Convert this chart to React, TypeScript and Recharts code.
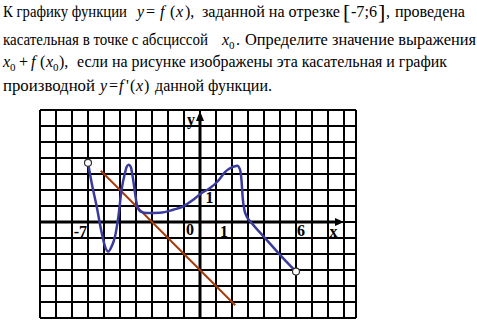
import { LineChart, Line, XAxis, YAxis, CartesianGrid, ReferenceLine, ReferenceDot } from 'recharts';

const xTicks = [-10, -9, -8, -7, -6, -5, -4, -3, -2, -1, 0, 1, 2, 3, 4, 5, 6, 7, 8, 9];
const yTicks = [-6, -5, -4, -3, -2, -1, 0, 1, 2, 3, 4, 5, 6, 7];

// graph of f'(x) on [-7; 6]
const derivative = [
  { x: -7, y: 3.7 },
  { x: -6.77, y: 2.44 },
  { x: -6.46, y: 0.98 },
  { x: -6.14, y: -0.69 },
  { x: -5.94, y: -1.52 },
  { x: -5.73, y: -1.85 },
  { x: -5.52, y: -1.52 },
  { x: -5.31, y: -0.9 },
  { x: -5.1, y: 0.35 },
  { x: -4.9, y: 2.02 },
  { x: -4.69, y: 3.06 },
  { x: -4.58, y: 3.45 },
  { x: -4.45, y: 3.58 },
  { x: -4.33, y: 3.45 },
  { x: -4.21, y: 2.85 },
  { x: -4.06, y: 1.81 },
  { x: -3.92, y: 0.98 },
  { x: -3.7, y: 0.65 },
  { x: -3.3, y: 0.56 },
  { x: -2.5, y: 0.58 },
  { x: -1.67, y: 0.77 },
  { x: -1.04, y: 0.98 },
  { x: -0.42, y: 1.39 },
  { x: 0.1, y: 1.81 },
  { x: 0.63, y: 2.12 },
  { x: 1.14, y: 2.58 },
  { x: 1.56, y: 3.12 },
  { x: 1.98, y: 3.41 },
  { x: 2.33, y: 3.52 },
  { x: 2.5, y: 3.27 },
  { x: 2.6, y: 2.54 },
  { x: 2.67, y: 1.5 },
  { x: 2.77, y: 0.77 },
  { x: 2.92, y: 0.35 },
  { x: 3.23, y: -0.06 },
  { x: 4.06, y: -1.0 },
  { x: 4.9, y: -1.94 },
  { x: 6, y: -3.1 },
];

// tangent line y = -x - 3
const tangent = [
  { x: -6.2, y: 3.2 },
  { x: 2.2, y: -5.2 },
];

const axisLabels = [
  { x: -7, y: 0, text: '-7' },
  { x: 0, y: 0, text: '0' },
  { x: 1, y: 0, text: '1' },
  { x: 6, y: 0, text: '6' },
  { x: 8, y: 0, text: 'x' },
  { x: 0, y: 7, text: 'y' },
  { x: 0, y: 1, text: '1' },
];

const labelOffset: Record<string, [number, number, 'start' | 'middle' | 'end']> = {
  '-7|0': [-1, 15, 'end'],
  '0|0': [-6, 13, 'end'],
  '1|0': [8, 15, 'middle'],
  '6|0': [5, 14, 'middle'],
  '8|0': [5.5, 15, 'middle'],
  '0|7': [-9, 15, 'middle'],
  '0|1': [9.5, -3, 'middle'],
};

const serif = "'Liberation Serif', 'Times New Roman', serif";
const curveColor = '#3a3a9c';
const tangentColor = '#a63c0c';

function T({ x, y, len, it, size, children }: { x: number; y: number; len?: number; it?: boolean; size?: number; children: string }) {
  return (
    <text
      x={x}
      y={y}
      textLength={len}
      lengthAdjust={len ? 'spacingAndGlyphs' : undefined}
      style={{ fontFamily: serif, fontSize: size ?? 16, fontStyle: it ? 'italic' : 'normal' }}
    >
      {children}
    </text>
  );
}

function ProblemText() {
  return (
    <svg width={477} height={105} style={{ position: 'absolute', top: 0, left: 0 }} fill="#000">
      {/* line 1 */}
      <T x={3} y={17} len={124}>К графику функции</T>
      <T x={137} y={17} it>y</T>
      <T x={146} y={17}>=</T>
      <T x={160} y={17} it>f</T>
      <T x={170} y={17}>(</T>
      <T x={176} y={17} it>x</T>
      <T x={185} y={17}>),</T>
      <T x={202} y={17} len={138}>заданной на отрезке</T>
      <T x={343} y={19} size={22}>[</T>
      <T x={351} y={17} len={26}>-7;6</T>
      <T x={378} y={19} size={22}>]</T>
      <T x={386} y={17}>,</T>
      <T x={395} y={17} len={70}>проведена</T>
      {/* line 2 */}
      <T x={3} y={45} len={205}>касательная в точке с абсциссой</T>
      <T x={222} y={45} it>x</T>
      <T x={229} y={49} size={11}>0</T>
      <T x={236} y={45}>.</T>
      <T x={245} y={45} len={231}>Определите значение выражения</T>
      {/* line 3 */}
      <T x={3} y={67} it>x</T>
      <T x={10} y={71} size={11}>0</T>
      <T x={19} y={67}>+</T>
      <T x={31} y={67} it>f</T>
      <T x={40} y={67}>(</T>
      <T x={46} y={67} it>x</T>
      <T x={53} y={71} size={11}>0</T>
      <T x={59} y={67}>),</T>
      <T x={77} y={67} len={370}>если на рисунке изображены эта касательная и график</T>
      {/* line 4 */}
      <T x={3} y={91} len={92}>производной</T>
      <T x={100} y={91} it>y</T>
      <T x={109} y={91}>=</T>
      <T x={119} y={91} it>f</T>
      <T x={126} y={91}>'</T>
      <T x={130} y={91}>(</T>
      <T x={136} y={91} it>x</T>
      <T x={144} y={91}>)</T>
      <T x={155} y={91} len={117}>данной функции.</T>
    </svg>
  );
}

export default function App() {
  const first = derivative[0];
  const last = derivative[derivative.length - 1];

  return (
    <div style={{ position: 'absolute', top: 0, left: 0, width: 477, height: 321, background: '#fff' }}>
      <ProblemText />
      <div style={{ position: 'absolute', top: 0, left: 0 }}>
        <LineChart width={477} height={321} margin={{ top: 110, right: 121, bottom: 3, left: 40 }}>
          <CartesianGrid stroke="#000" strokeWidth={2} />
          <XAxis
            type="number"
            dataKey="x"
            domain={[-10, 9.75]}
            ticks={xTicks}
            interval={0}
            allowDataOverflow
            hide
          />
          <YAxis
            type="number"
            domain={[-6, 7]}
            ticks={yTicks}
            interval={0}
            allowDataOverflow
            hide
          />
          <ReferenceLine segment={[{ x: -10, y: 0 }, { x: 8.6, y: 0 }]} stroke="#000" strokeWidth={3} />
          <ReferenceLine segment={[{ x: 0, y: -6 }, { x: 0, y: 6.5 }]} stroke="#000" strokeWidth={3} />
          <ReferenceDot
            x={9}
            y={0}
            r={1}
            shape={(p: any) => (
              <polygon points={`${p.cx},${p.cy} ${p.cx - 9},${p.cy - 4} ${p.cx - 9},${p.cy + 4}`} fill="#000" />
            )}
          />
          <ReferenceDot
            x={0}
            y={7}
            r={1}
            shape={(p: any) => (
              <polygon points={`${p.cx},${p.cy + 1} ${p.cx - 4},${p.cy + 11} ${p.cx + 4},${p.cy + 11}`} fill="#000" />
            )}
          />
          {axisLabels.map((l) => {
            const [dx, dy, anchor] = labelOffset[`${l.x}|${l.y}`];
            return (
              <ReferenceDot
                key={`${l.x}|${l.y}|${l.text}`}
                x={l.x}
                y={l.y}
                r={1}
                shape={(p: any) => (
                  <text
                    x={p.cx + dx}
                    y={p.cy + dy}
                    textAnchor={anchor}
                    fontFamily={serif}
                    fontSize={16}
                    fontWeight="bold"
                    fill="#000"
                  >
                    {l.text}
                  </text>
                )}
              />
            );
          })}
          <Line
            data={tangent}
            dataKey="y"
            type="linear"
            stroke={tangentColor}
            strokeWidth={2}
            dot={false}
            activeDot={false}
            isAnimationActive={false}
          />
          <Line
            data={derivative}
            dataKey="y"
            type="monotone"
            stroke={curveColor}
            strokeWidth={2.5}
            dot={false}
            activeDot={false}
            isAnimationActive={false}
          />
          <ReferenceDot x={first.x} y={first.y} r={3.5} fill="#fff" stroke="#333" strokeWidth={1.2} />
          <ReferenceDot x={last.x} y={last.y} r={3.5} fill="#fff" stroke="#333" strokeWidth={1.2} />
        </LineChart>
      </div>
    </div>
  );
}
